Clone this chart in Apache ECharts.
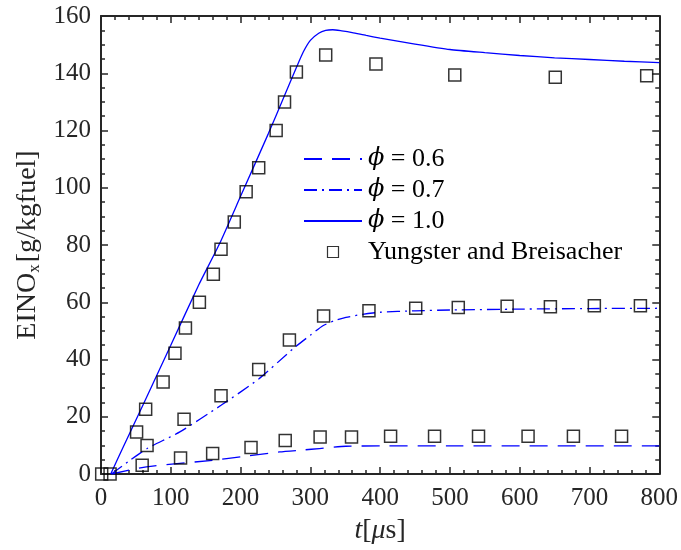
<!DOCTYPE html>
<html>
<head>
<meta charset="utf-8">
<script src="https://cdn.jsdelivr.net/npm/echarts@6/dist/echarts.min.js"></script>
<style>
    html, body { margin: 0; padding: 0; background: #fff; }
    #chart { width: 681px; height: 550px; }
</style>
</head>
<body>
<div id="chart"></div>
<script>
// phi = 1.0 (solid)
var phi10T = [14, 30, 60, 100, 140, 170, 200, 240, 260, 280, 290, 300, 312, 322, 332, 345, 360, 380, 400, 450, 500, 550, 600, 650, 700, 750, 800];
var phi10Y = [0, 8.5, 24, 45, 66, 80.5, 97, 119, 130.5, 142, 147.5, 151.5, 154, 155, 155.2, 154.8, 154.2, 153.2, 152.3, 150.2, 148.3, 147.2, 146.2, 145.4, 144.8, 144.2, 143.7];
// phi = 0.7 (dash-dot)
var phi07T = [15, 40, 66, 113, 172, 226, 275, 300, 318, 335, 351, 375, 400, 450, 500, 600, 700, 800];
var phi07Y = [0, 4.5, 8.9, 14.7, 24, 33.2, 43.7, 48.5, 51.8, 53.6, 54.7, 55.8, 56.5, 57, 57.3, 57.6, 57.8, 57.9];
// phi = 0.6 (dashed)
var phi06T = [15, 65, 160, 200, 256, 290, 313, 351, 400, 500, 800];
var phi06Y = [0, 2.5, 4.8, 6.0, 7.7, 8.4, 8.9, 9.7, 9.8, 9.8, 9.8];
// Yungster and Breisacher (squares)
var refT = [1, 13, 51, 64, 89, 106, 121, 141, 161, 172, 191, 208, 226, 251, 263, 280, 322, 394, 507, 651, 782,
            66, 119, 172, 226, 270, 319, 384, 451, 512, 582, 644, 707, 773,
            59, 114, 160, 215, 264, 314, 359, 415, 478, 541, 612, 677, 746];
var refY = [0, 0, 14.7, 22.6, 32.1, 42.2, 51, 60, 69.8, 78.5, 88, 98.6, 107, 120, 130, 140.4, 146.4, 143.2, 139.4, 138.6, 139.1,
            10, 19.1, 27.3, 36.5, 46.8, 55.2, 57, 57.9, 58.2, 58.6, 58.4, 58.8, 58.8,
            3.1, 5.6, 7.2, 9.3, 11.7, 12.9, 12.9, 13.2, 13.2, 13.2, 13.2, 13.2, 13.2];
var xTicks = [0, 100, 200, 300, 400, 500, 600, 700, 800];
var yTicks = [0, 20, 40, 60, 80, 100, 120, 140, 160];

var names = ["ϕ = 0.6", "ϕ = 0.7", "ϕ = 1.0", "Yungster and Breisacher"];

function pairs(t, y) {
    return t.map(function (v, i) { return [v, y[i]]; });
}

var axisColor = "#262626";
var serif = "Liberation Serif";
var squarePath = "path://M0,0L10,0L10,10L0,10Z";

function frameAxis(position, show, min, max, interval, split) {
    return {
        type: "value",
        position: position,
        min: min,
        max: max,
        interval: interval,
        axisLine: { show: true, onZero: false, lineStyle: { color: axisColor, width: 2 } },
        axisTick: { show: true, inside: true, length: 7, lineStyle: { color: axisColor, width: 1.5 } },
        minorTick: { show: true, splitNumber: split, length: 4, lineStyle: { color: axisColor, width: 1.5 } },
        splitLine: { show: false },
        axisLabel: { show: show, fontFamily: serif, fontSize: 25, color: axisColor }
    };
}

var xBottom = frameAxis("bottom", true, xTicks[0], xTicks[xTicks.length - 1], 100, 5);
xBottom.axisLabel.margin = 12;
xBottom.name = "{i|t}[{i|μ}s]";
xBottom.nameLocation = "middle";
xBottom.nameGap = 43;
xBottom.nameTextStyle = {
    fontFamily: serif, fontSize: 28, color: axisColor,
    rich: { i: { fontFamily: serif, fontSize: 28, fontStyle: "italic", color: axisColor } }
};
var xTop = frameAxis("top", false, 0, 800, 100, 5);

var yLeft = frameAxis("left", true, yTicks[0], yTicks[yTicks.length - 1], 20, 4);
yLeft.axisLabel.margin = 10;
yLeft.name = "EINO{s|x}[g/kgfuel]";
yLeft.nameLocation = "middle";
yLeft.nameGap = 57;
yLeft.nameTextStyle = {
    fontFamily: serif, fontSize: 28, color: axisColor,
    rich: { s: { fontFamily: serif, fontSize: 17, color: axisColor, verticalAlign: "bottom", padding: [12, 2, 0, 0] } }
};
var yRight = frameAxis("right", false, 0, 160, 20, 4);

var legendData = names.map(function (n, i) {
    if (i < 3) return { name: n, itemStyle: { opacity: 0 } };
    return {
        name: n,
        icon: squarePath,
        itemStyle: { color: "rgba(0,0,0,0)", borderColor: "#000", borderWidth: 1.2 }
    };
});

var chart = echarts.init(document.getElementById("chart"));
var option = {
    animation: false,
    backgroundColor: "#fff",
    grid: { left: 101, right: 20, top: 16, bottom: 74.5 },
    xAxis: [xBottom, xTop],
    yAxis: [yLeft, yRight],
    legend: {
        orient: "vertical",
        left: 298,
        top: 140.5,
        itemWidth: 58,
        itemHeight: 11,
        itemGap: 4,
        data: legendData,
        formatter: function (name) { return name.replace("ϕ", "{i|ϕ}"); },
        textStyle: {
            fontFamily: serif, fontSize: 26, color: "#000", lineHeight: 27, padding: [0, 0, 0, 1],
            rich: { i: { fontFamily: "DejaVu Serif", fontSize: 24, fontStyle: "italic", color: "#000" } }
        }
    },
    series: [{
        name: names[0],
        type: "line",
        data: pairs(phi06T, phi06Y),
        symbol: "none",
        smooth: 0.2,
        lineStyle: { color: "#0000ff", width: 1.3, type: [18, 10] },
        itemStyle: { color: "#0000ff" }
    }, {
        name: names[1],
        type: "line",
        data: pairs(phi07T, phi07Y),
        symbol: "none",
        smooth: 0.2,
        lineStyle: { color: "#0000ff", width: 1.3, type: [13, 5, 2, 5] },
        itemStyle: { color: "#0000ff" }
    }, {
        name: names[2],
        type: "line",
        data: pairs(phi10T, phi10Y),
        symbol: "none",
        smooth: 0.2,
        lineStyle: { color: "#0000ff", width: 1.3 },
        itemStyle: { color: "#0000ff" }
    }, {
        name: names[3],
        type: "scatter",
        data: pairs(refT, refY),
        symbol: squarePath,
        symbolKeepAspect: true,
        symbolSize: 12,
        itemStyle: { color: "rgba(0,0,0,0)", borderColor: "#000", borderWidth: 1.5 },
        z: 3
    }]
};
chart.setOption(option);
</script>
</body>
</html>
